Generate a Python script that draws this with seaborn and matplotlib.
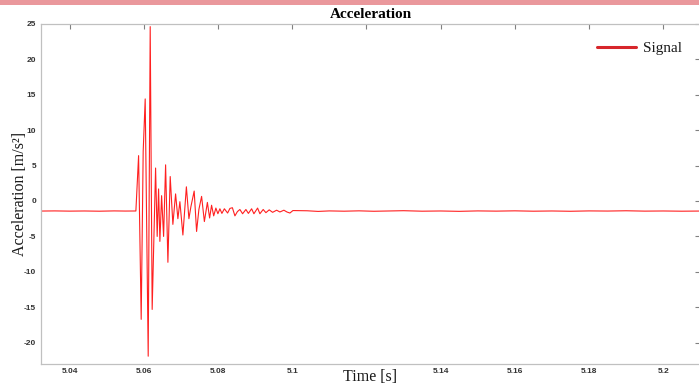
import matplotlib
matplotlib.use('Agg')
import matplotlib.pyplot as plt
import seaborn as sns
import pandas as pd
from matplotlib.patches import Rectangle

# ---- data ----
time_s = [
    5.0323, 5.0360, 5.0400, 5.0440, 5.0480, 5.0520, 5.0550, 5.05787,
    5.05860, 5.05930, 5.05984, 5.06038, 5.06119, 5.06173, 5.06226,
    5.06318, 5.06361, 5.06399, 5.06434, 5.06480, 5.06534, 5.06588,
    5.06650, 5.06712, 5.06784, 5.06857, 5.06919, 5.06973, 5.07054,
    5.07148, 5.07216, 5.07270, 5.07358, 5.07423, 5.07485, 5.07558,
    5.07633, 5.07714, 5.07774, 5.07827, 5.07884, 5.07943, 5.07997,
    5.08051, 5.08105, 5.08172, 5.08259, 5.08321, 5.08388, 5.08456,
    5.08523, 5.08590, 5.08663, 5.08752, 5.08819, 5.08906, 5.08968,
    5.09067, 5.09129, 5.09218, 5.09291, 5.09380, 5.09472, 5.09580,
    5.09668, 5.09776, 5.09857, 5.09938, 5.10019,
    5.1040, 5.1070, 5.1100, 5.1140, 5.1180, 5.1220, 5.1260, 5.1300,
    5.1350, 5.1400, 5.1450, 5.1500, 5.1550, 5.1600, 5.1650, 5.1700,
    5.1750, 5.1800, 5.1850, 5.1900, 5.1950, 5.2000, 5.2050, 5.2099,
]
accel = [
    -1.42, -1.40, -1.43, -1.41, -1.44, -1.40, -1.42, -1.41,
    6.4, -16.7, 7.0, 14.4, -21.9, 24.6, -15.3,
    4.65, -5.0, 1.7, -5.7, 0.75, -5.0, 5.1,
    -8.65, 3.45, -3.3, 1.0, -2.5, -0.1, -4.8,
    2.0, -2.5, -0.8, 1.4, -4.3, -1.2, 0.65,
    -2.9, -0.2, -2.4, -0.6, -2.1, -1.0, -1.8,
    -1.1, -1.75, -1.1, -1.7, -1.05, -0.95, -2.1,
    -1.5, -1.2, -1.8, -1.2, -1.75, -1.1, -1.8,
    -1.0, -1.8, -1.2, -1.65, -1.25, -1.6, -1.3,
    -1.55, -1.3, -1.55, -1.7, -1.35,
    -1.38, -1.47, -1.40, -1.44, -1.39, -1.45, -1.41, -1.37,
    -1.44, -1.41, -1.46, -1.40, -1.43, -1.39, -1.44, -1.41,
    -1.45, -1.40, -1.42, -1.38, -1.43, -1.41, -1.44, -1.42,
]
x_ticks = [5.04, 5.06, 5.08, 5.1, 5.12, 5.14, 5.16, 5.18, 5.2]
x_tick_labels = ['5.04', '5.06', '5.08', '5.1', '5.12', '5.14', '5.16', '5.18', '5.2']
y_ticks = [-20, -15, -10, -5, 0, 5, 10, 15, 20, 25]
y_tick_labels = ['-20', '-15', '-10', '-5', '0', '5', '10', '15', '20', '25']

sns.set_theme(style='white')
plt.rcParams['font.family'] = ['Liberation Serif', 'DejaVu Serif']

W, H = 699, 390
fig = plt.figure(figsize=(W / 100, H / 100), dpi=100)
fig.patches.append(Rectangle((0, 1 - 5 / H), 1, 5 / H, transform=fig.transFigure,
                             facecolor='#EA989C', edgecolor='none'))

ax_left, ax_right, ax_top, ax_bottom = 41, 700, 23.8, 364
ax = fig.add_axes([ax_left / W, (H - ax_bottom) / H,
                   (ax_right - ax_left) / W, (ax_bottom - ax_top) / H])

df = pd.DataFrame({'Time': time_s, 'Acceleration': accel})
sns.lineplot(data=df, x='Time', y='Acceleration', ax=ax, color='#FF2020',
             linewidth=0.8, label='Signal', estimator=None, sort=False)

ax.set_xlim(5.0323, 5.2099)
ax.set_ylim(-23, 25)
ax.set_xticks(x_ticks)
ax.set_xticklabels(x_tick_labels)
ax.set_yticks(y_ticks)
ax.set_yticklabels(y_tick_labels)

for lab in ax.get_xticklabels() + ax.get_yticklabels():
    lab.set_fontfamily('Liberation Sans')
    lab.set_fontweight('bold')
    lab.set_fontsize(6)
    lab.set_color('#333333')

ax.tick_params(axis='both', direction='in', length=3.5, width=0.8, color='#808080',
               top=True, right=True)
ax.tick_params(axis='x', pad=3)
ax.tick_params(axis='y', pad=3.5)
for sp in ax.spines.values():
    sp.set_color('#C0C0C0')
    sp.set_linewidth(0.9)

ax.set_title('Acceleration', fontweight='bold', fontsize=11, pad=4, color='black')
ax.set_ylabel('Acceleration [m/s²]', fontsize=11.5, color='#1a1a1a')
ax.yaxis.set_label_coords(-(ax_left - 28) / (ax_right - ax_left), 0.5)
ax.set_xlabel('Time [s]', fontsize=11.5, color='#1a1a1a',
              bbox=dict(facecolor='white', edgecolor='none', pad=0.5))
ax.xaxis.set_label_coords(0.5, -(369 - ax_bottom) / (ax_bottom - ax_top))

leg = ax.legend(loc='center right', bbox_to_anchor=((682 - ax_left) / (ax_right - ax_left),
                                                     (ax_bottom - 48) / (ax_bottom - ax_top)),
                frameon=False, fontsize=11, handlelength=2.55, handletextpad=0.45,
                borderaxespad=0, borderpad=0)
for ln in leg.get_lines():
    ln.set_linewidth(2.2)
    ln.set_color('#D7262B')
for t in leg.get_texts():
    t.set_color('#1a1a1a')

fig.savefig('out.png', dpi=100)
